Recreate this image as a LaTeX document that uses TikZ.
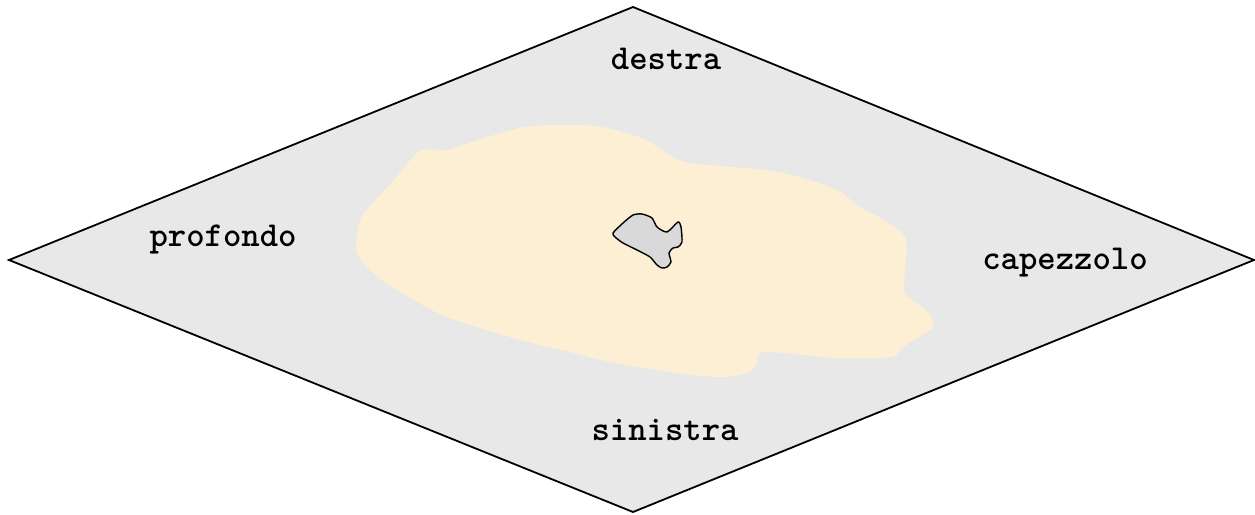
\documentclass[tikz,border=0pt]{standalone}
\usetikzlibrary{calc}
\usepackage[svgnames]{xcolor}
\definecolor{piano}{HTML}{E8E8E8}
\definecolor{tumore}{HTML}{FCEFD4}
\definecolor{nodulo}{HTML}{D9D9D9}
\tikzset{
  etichetta/.style={font=\fontsize{35}{40}\selectfont\ttfamily\bfseries, inner sep=0pt},
  bordo/.style={line width=1.8pt, line join=miter},
}

\begin{document}
\begin{tikzpicture}[x=1pt, y=-1pt]
  \useasboundingbox (0,0) rectangle (1255,514);

  % vertici del piano
  \coordinate (T) at (633,7);
  \coordinate (R) at (1254,260);
  \coordinate (B) at (633,512);
  \coordinate (L) at (9,260);

  % piano
  \draw[bordo, fill=piano] (T) -- (R) -- (B) -- (L) -- cycle;

  % regione chiara
  \fill[tumore] plot[smooth cycle, tension=0.5] coordinates {
    (420,151) (447,150) (478,140) (501,133) (531,126) (585,125) (615,130)
    (646,140) (681,161) (723,166) (772,171) (799,177) (837,190) (860,207)
    (887,222) (906,240) (904,283) (906,295) (929,313) (933,327) (925,333)
    (903,347) (891,357) (837,358) (765,352) (757,363) (749,372) (723,377)
    (677,373) (615,363) (562,350) (520,340) (447,317) (409,297) (378,277)
    (357,253) (359,223) (369,207) (394,180)};

  % nodulo
  \draw[line width=1.4pt, fill=nodulo] plot[smooth cycle, tension=0.4] coordinates {
    (613,233) (623,223) (633,215) (642,214) (652,218) (657,227) (667,232)
    (678,222) (681,227) (682,242) (678,247) (673,248) (669,253) (671,262)
    (667,267) (662,268) (657,265) (650,257) (637,250) (623,243) (615,237)};

  % etichette
  \node[etichetta] (destra) at (666,59) {destra};
  \node[etichetta] (profondo) at (223,239) {profondo};
  \node[etichetta] (capezzolo) at (1065,263) {capezzolo};
  \node[etichetta] (sinistra) at (665,430) {sinistra};
\end{tikzpicture}
\end{document}
